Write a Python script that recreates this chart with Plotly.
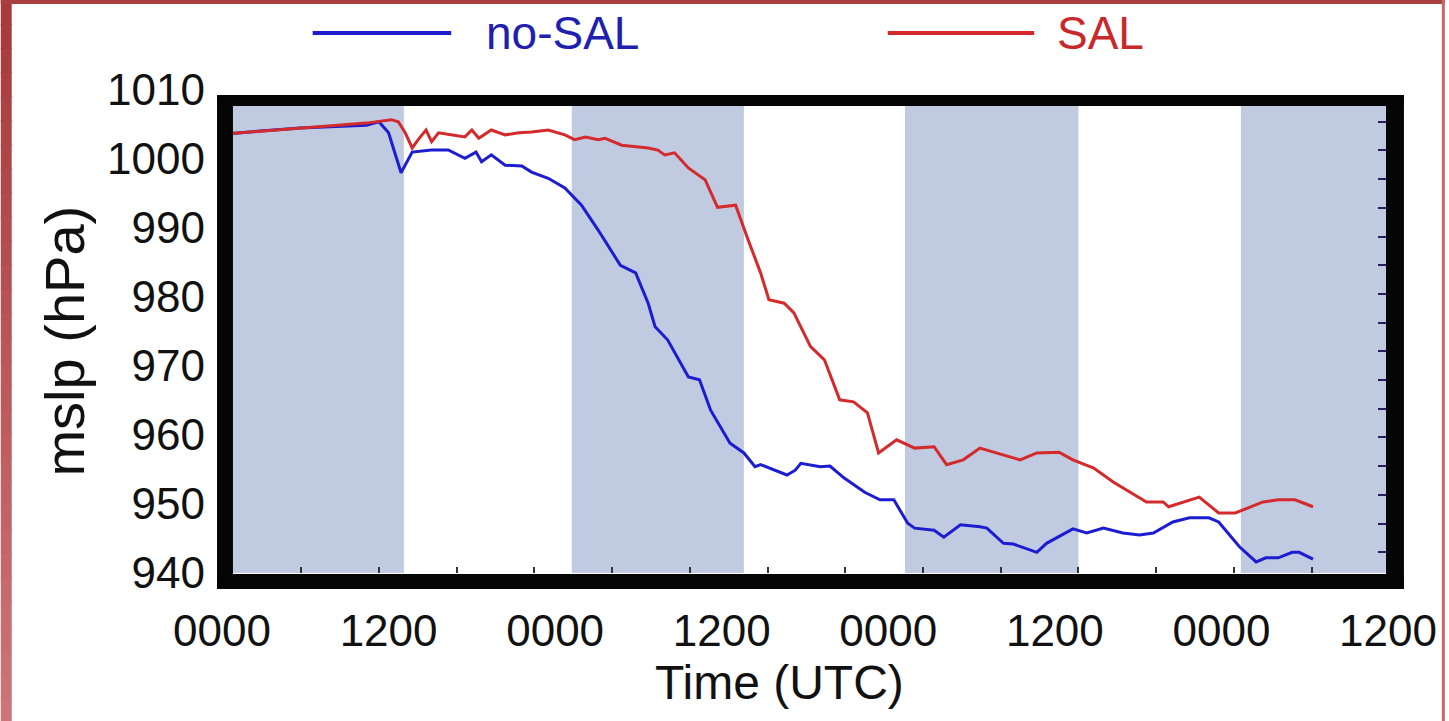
import plotly.graph_objects as go

# ---------------- data (hours since first 0000 UTC, hPa) ----------------
t_nosal = [0.0, 5.6, 10.4, 11.3, 12.0, 12.9, 13.7, 15.1, 16.3, 17.5, 18.3, 18.7, 19.4, 20.4,
           21.6, 22.3, 23.5, 24.7, 25.9, 27.1, 28.7, 29.8, 30.7, 31.2, 32.1, 33.6, 34.4, 35.2,
           36.6, 37.6, 38.4, 38.8, 40.7, 41.3, 41.7, 43.1, 43.8, 44.8, 46.3, 47.4, 48.4, 49.4,
           49.9, 51.3, 52.0, 53.2, 54.6, 55.1, 56.3, 57.0, 58.7, 59.4, 61.3, 62.3, 63.5, 64.9,
           66.1, 67.1, 68.5, 69.7, 71.1, 71.8, 73.3, 74.5, 75.2, 76.1, 77.1, 77.6, 78.6]
p_nosal = [1003.6, 1004.5, 1004.9, 1005.4, 1003.8, 998.0, 1001.0, 1001.3, 1001.3, 1000.1, 1001.0,
           999.6, 1000.6, 999.1, 999.0, 998.1, 997.2, 995.8, 993.3, 989.7, 984.6, 983.5, 979.1,
           975.7, 973.8, 968.4, 968.0, 963.6, 958.8, 957.4, 955.4, 955.7, 954.2, 954.9, 955.9,
           955.4, 955.5, 953.8, 951.7, 950.6, 950.6, 947.2, 946.5, 946.2, 945.2, 947.0, 946.7,
           946.5, 944.3, 944.2, 943.0, 944.3, 946.4, 945.8, 946.5, 945.8, 945.5, 945.8, 947.4,
           948.0, 948.0, 947.4, 943.8, 941.6, 942.2, 942.2, 943.0, 943.0, 942.0]

t_sal = [0.0, 5.6, 10.4, 12.2, 12.7, 13.2, 13.7, 14.2, 14.7, 15.1, 15.6, 16.5, 17.5, 18.0, 18.5,
         19.4, 20.4, 21.4, 22.3, 23.5, 24.7, 25.4, 26.2, 27.1, 27.6, 28.8, 30.7, 31.4, 31.9, 32.6,
         33.6, 34.3, 34.8, 35.7, 37.0, 37.9, 38.8, 39.4, 40.5, 41.2, 42.4, 43.4, 44.5, 45.5, 46.5,
         47.3, 48.6, 49.9, 51.3, 52.2, 53.4, 54.6, 56.3, 57.5, 58.7, 60.3, 61.3, 62.8, 64.2, 66.1,
         66.6, 67.8, 68.2, 70.4, 71.8, 73.0, 75.0, 76.1, 77.3, 78.6]
p_sal = [1003.6, 1004.5, 1005.2, 1005.7, 1005.4, 1003.8, 1001.6, 1003.0, 1004.2, 1002.5, 1003.8,
         1003.5, 1003.2, 1004.2, 1003.0, 1004.2, 1003.5, 1003.8, 1003.9, 1004.2, 1003.5, 1002.8,
         1003.2, 1002.8, 1003.0, 1002.0, 1001.6, 1001.3, 1000.6, 1000.9, 998.7, 997.7, 997.0,
         993.0, 993.3, 988.3, 983.5, 979.6, 979.1, 977.7, 972.8, 970.9, 965.1, 964.8, 963.2,
         957.4, 959.3, 958.1, 958.3, 955.7, 956.4, 958.1, 957.1, 956.4, 957.4, 957.5, 956.4,
         955.2, 953.2, 951.0, 950.3, 950.3, 949.6, 951.0, 948.7, 948.7, 950.3, 950.6, 950.6, 949.6]

series_names = ["no-SAL", "SAL"]

# shaded (night) periods, hours
shade_start = [0.0, 25.2, 49.2, 73.4]
shade_end = [13.1, 37.6, 61.7, 84.0]

x_tickvals = [0, 12, 24, 36, 48, 60, 72, 84]
x_ticktext = ["0000", "1200", "0000", "1200", "0000", "1200", "0000", "1200"]
y_tickvals = [940, 950, 960, 970, 980, 990, 1000, 1010]

# ---------------- layout geometry helpers ----------------
W, H = 1449, 721
L, R, T, B = 222, 1392, 90, 573


def px(x):
    return (x - L) / (R - L)


def py(y):
    return (B - y) / (B - T)


BLUE = "#1c1cd0"
RED = "#d42a2c"
FONT = "Liberation Sans, Arial, Helvetica, sans-serif"

fig = go.Figure()
fig.add_trace(go.Scatter(x=t_nosal, y=p_nosal, mode="lines", name=series_names[0],
                         line=dict(color=BLUE, width=3), showlegend=False))
fig.add_trace(go.Scatter(x=t_sal, y=p_sal, mode="lines", name=series_names[1],
                         line=dict(color=RED, width=3), showlegend=False))
# empty trace so the right-hand tick axis is drawn
fig.add_trace(go.Scatter(x=[], y=[], yaxis="y2", showlegend=False, hoverinfo="skip"))

shapes = []
# night shading
for s, e in zip(shade_start, shade_end):
    shapes.append(dict(type="rect", xref="x", yref="y", x0=s, x1=e, y0=940, y1=1008.5,
                       fillcolor="#c0cae1", line=dict(width=0), layer="below"))

# thick black frame
frame = [(217, 233, 95, 589), (1390, 1408, 95, 589), (217, 1408, 95, 106), (217, 1408, 574, 589)]
for x0, x1, y0, y1 in frame:
    shapes.append(dict(type="rect", xref="paper", yref="paper", x0=px(x0), x1=px(x1),
                       y0=py(y1), y1=py(y0), fillcolor="#050505", line=dict(width=0),
                       layer="above"))

# reddish page border (left gradient strip, top strip, right line)
n = 30
c_top = (166, 58, 60)
c_bot = (204, 116, 119)
for i in range(n):
    f = i / (n - 1)
    col = tuple(int(round(a + (b - a) * f)) for a, b in zip(c_top, c_bot))
    y0 = H * i / n
    y1 = H * (i + 1) / n + 1
    shapes.append(dict(type="rect", xref="paper", yref="paper", x0=px(0), x1=px(11),
                       y0=py(y1), y1=py(y0), fillcolor="rgb(%d,%d,%d)" % col,
                       line=dict(width=0), layer="above"))
shapes.append(dict(type="rect", xref="paper", yref="paper", x0=px(0), x1=px(W),
                   y0=py(4), y1=py(0), fillcolor="#a8403f", line=dict(width=0), layer="above"))
shapes.append(dict(type="rect", xref="paper", yref="paper", x0=px(1446), x1=px(W),
                   y0=py(H), y1=py(0), fillcolor="#c86668", line=dict(width=0), layer="above"))

# legend samples
legend_lines = [(313, 452, BLUE), (890, 1037, RED)]
for x0, x1, c in legend_lines:
    shapes.append(dict(type="line", xref="paper", yref="paper", x0=px(x0), x1=px(x1),
                       y0=py(33), y1=py(33), line=dict(color=c, width=4)))

annotations = [
    dict(text=series_names[0], xref="paper", yref="paper", x=px(485), y=py(33),
         xanchor="left", yanchor="middle", showarrow=False,
         font=dict(family=FONT, size=46, color="#2020b0")),
    dict(text=series_names[1], xref="paper", yref="paper", x=px(1058), y=py(33),
         xanchor="left", yanchor="middle", showarrow=False,
         font=dict(family=FONT, size=46, color="#c8282a")),
    dict(text="mslp (hPa)", xref="paper", yref="paper", x=px(63), y=py(341),
         xanchor="center", yanchor="middle", showarrow=False, textangle=-90,
         font=dict(family=FONT, size=56, color="#111111")),
    dict(text="Time (UTC)", xref="paper", yref="paper", x=px(781), y=py(682),
         xanchor="center", yanchor="middle", showarrow=False,
         font=dict(family=FONT, size=48, color="#111111")),
]

right_ticks = [943.0 + 4.16 * k for k in range(16)]

fig.update_layout(
    width=W, height=H,
    margin=dict(l=L, r=W - R, t=T, b=H - B, pad=0),
    paper_bgcolor="white", plot_bgcolor="white",
    showlegend=False,
    shapes=shapes,
    annotations=annotations,
    xaxis=dict(range=[0, 84], tickvals=x_tickvals, ticktext=x_ticktext, ticks="",
               showgrid=False, zeroline=False, showline=False,
               tickfont=dict(family=FONT, size=44, color="#111111"),
               ticklabelstandoff=28,
               minor=dict(ticks="inside", ticklen=6, tickwidth=2, tickcolor="#333333",
                          tick0=0.1, dtick=5.6, showgrid=False)),
    yaxis=dict(range=[940, 1010], tickvals=y_tickvals, ticks="", showgrid=False,
               zeroline=False, showline=False,
               tickfont=dict(family=FONT, size=44, color="#111111"),
               ticklabelstandoff=16),
    yaxis2=dict(range=[940, 1010], overlaying="y", side="right", showticklabels=False,
                ticks="inside", ticklen=10, tickwidth=2, tickcolor="#2a1a60",
                tickmode="array", tickvals=right_ticks,
                showgrid=False, zeroline=False, showline=False),
)

fig.write_html("out.html")
